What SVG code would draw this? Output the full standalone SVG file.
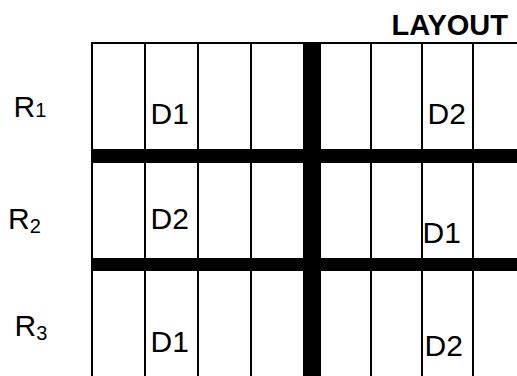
<svg xmlns="http://www.w3.org/2000/svg" width="517" height="376" viewBox="0 0 517 376">
<style>
.t{font-family:"Liberation Sans",Arial,sans-serif;font-size:30px;fill:#000}
.s{font-family:"Liberation Sans",Arial,sans-serif;font-size:20px;fill:#000}
.thin{stroke:#000;stroke-width:2;fill:none}
.bar{fill:#000}
</style>
<rect width="517" height="376" fill="#fff"/>
<g id="title"><text x="508" y="35" text-anchor="end" style="font-family:'Liberation Sans',Arial,sans-serif;font-size:29px;font-weight:bold">LAYOUT</text></g>
<g id="grid">
<line class="thin" x1="91" y1="43" x2="517" y2="43"/>
<line class="thin" x1="92" y1="42" x2="92" y2="376"/>
<line class="thin" x1="145" y1="42" x2="145" y2="376"/>
<line class="thin" x1="198" y1="42" x2="198" y2="376"/>
<line class="thin" x1="251" y1="42" x2="251" y2="376"/>
<line class="thin" x1="371" y1="42" x2="371" y2="376"/>
<line class="thin" x1="422" y1="42" x2="422" y2="376"/>
<line class="thin" x1="473" y1="42" x2="473" y2="376"/>
<rect class="bar" x="303" y="42" width="18" height="334"/>
<rect class="bar" x="91" y="149" width="426" height="14"/>
<rect class="bar" x="91" y="258" width="426" height="13"/>
</g>
<g id="rows">
<text class="t" x="13.5" y="117">R<tspan class="s" dy="0">1</tspan></text>
<text class="t" x="8" y="229">R<tspan class="s" dy="4">2</tspan></text>
<text class="t" x="14.5" y="336">R<tspan class="s" dy="4">3</tspan></text>
</g>
<g id="cells">
<text class="t" x="150.5" y="124">D1</text>
<text class="t" x="427.5" y="124">D2</text>
<text class="t" x="150.5" y="228.5">D2</text>
<text class="t" x="422.5" y="242.5">D1</text>
<text class="t" x="150.5" y="352">D1</text>
<text class="t" x="424.5" y="356">D2</text>
</g>
</svg>
